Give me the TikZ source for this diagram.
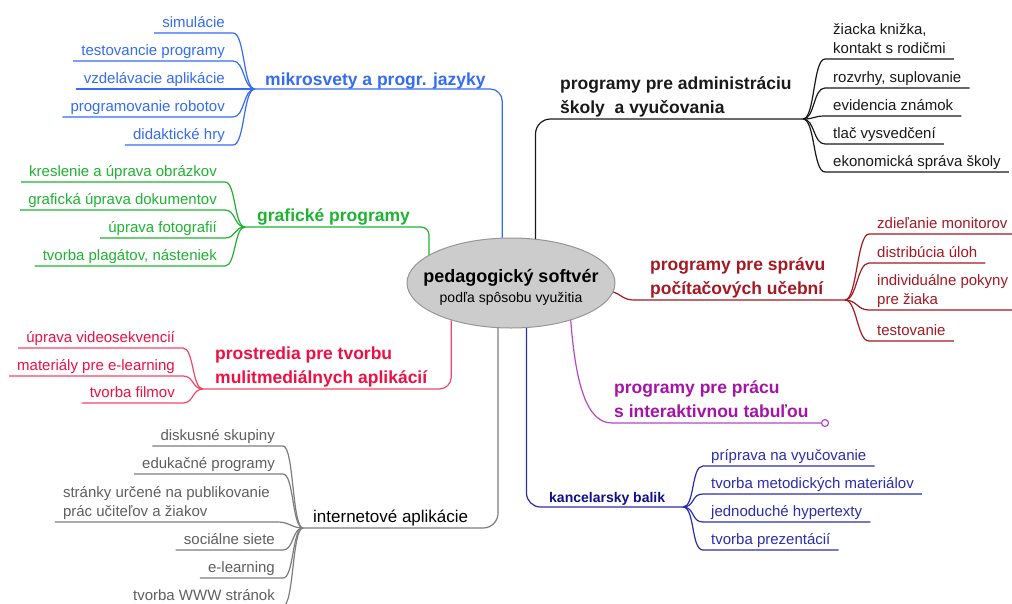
\documentclass[tikz,border=0pt]{standalone}
\usepackage{fontspec}
\setmainfont{Liberation Sans}
\usetikzlibrary{shapes.geometric}
\definecolor{cB}{RGB}{52,108,246}
\definecolor{cG}{RGB}{30,180,50}
\definecolor{cR}{RGB}{238,16,68}
\definecolor{cRl}{RGB}{245,70,105}
\definecolor{cI}{RGB}{125,125,125}
\definecolor{cIt}{RGB}{95,95,95}
\definecolor{cK}{RGB}{25,25,25}
\definecolor{cD}{RGB}{165,25,35}
\definecolor{cP}{RGB}{165,20,165}
\definecolor{cPl}{RGB}{185,70,205}
\definecolor{cN}{RGB}{15,15,140}
\definecolor{cNl}{RGB}{45,45,175}
\definecolor{rootfill}{RGB}{204,204,204}
\definecolor{rootdraw}{RGB}{150,150,150}
\begin{document}
\begin{tikzpicture}[x=1pt,y=-1pt,
  conn/.style={line width=1.2pt},
  leafbase/.style={inner xsep=8pt, inner ysep=5pt, text depth=0pt, font=\fontsize{15}{19}\selectfont},
  leafL/.style={leafbase, anchor=south east},
  leafR/.style={leafbase, anchor=south west},
  title/.style={inner sep=0pt, anchor=base west, font=\fontsize{17.5}{23.5}\selectfont\bfseries},
]
\fill[white] (0,0) rectangle (1012,603);
\useasboundingbox (0,0) rectangle (1012,603);

% root
\node[ellipse, fill=rootfill, draw=rootdraw, line width=1pt, minimum width=208pt, minimum height=90pt, inner sep=0pt] (root) at (511,283) {};
\node[inner sep=0pt, font=\fontsize{18}{20}\selectfont] (rootlbl) at (511,288) {\begin{tabular}{@{}c@{}}\bfseries pedagogický softvér\\ \fontsize{14}{15}\selectfont podľa spôsobu využitia\end{tabular}};

% ---------- blue
\coordinate (jB) at (255,89);
\node[title,text=cB] (tB) at (265,85) {mikrosvety a progr. jazyky};
\draw[conn,cB,rounded corners=12pt] (root.101) |- (jB);
\node[leafL,text=cB] (sim) at (233,33) {simulácie};
\node[leafL,text=cB] (test) at (233,61) {testovancie programy};
\node[leafL,text=cB] (vzdel) at (233,89) {vzdelávacie aplikácie};
\node[leafL,text=cB] (robot) at (233,117) {programovanie robotov};
\node[leafL,text=cB] (hry) at (233,145) {didaktické hry};
\foreach \n in {sim,test,vzdel,robot,hry}
  \draw[conn,cB] (jB) .. controls +(-12,0) and +(12,0) .. (\n.south east) -- (\n.south west);

% ---------- green
\coordinate (jG) at (245,227);
\node[title,text=cG] (tG) at (257,221) {grafické programy};
\draw[conn,cG,rounded corners=8pt] (root.161) |- (jG);
\node[leafL,text=cG] (kres) at (225,182) {kreslenie a úprava obrázkov};
\node[leafL,text=cG] (grafu) at (225,210) {grafická úprava dokumentov};
\node[leafL,text=cG] (foto) at (225,238) {úprava fotografií};
\node[leafL,text=cG] (plag) at (225,266) {tvorba plagátov, násteniek};
\foreach \n in {kres,grafu,foto,plag}
  \draw[conn,cG] (jG) .. controls +(-11,0) and +(11,0) .. (\n.south east) -- (\n.south west);

% ---------- red
\coordinate (jR) at (203,389);
\node[title,text=cR] (tR) at (215,383) {\begin{tabular}[b]{@{}l@{}}prostredia pre tvorbu\\mulitmediálnych aplikácií\end{tabular}};
\draw[conn,cRl,rounded corners=12pt] (root.212) |- (jR);
\node[leafL,text=cR] (video) at (183,348) {úprava videosekvencií};
\node[leafL,text=cR] (mat) at (183,376) {materiály pre e-learning};
\node[leafL,text=cR] (film) at (183,403) {tvorba filmov};
\foreach \n in {video,mat,film}
  \draw[conn,cRl] (jR) .. controls +(-11,0) and +(11,0) .. (\n.south east) -- (\n.south west);

% ---------- gray
\coordinate (jI) at (303,528);
\node[inner sep=0pt, anchor=base west, font=\fontsize{17}{21}\selectfont, text=black] (tI) at (313,522) {internetové aplikácie};
\draw[conn,cI,rounded corners=15pt] (root.254) |- (jI);
\node[leafL,text=cIt] (disk) at (283,446) {diskusné skupiny};
\node[leafL,text=cIt] (eduk) at (283,474) {edukačné programy};
\node[leafL,text=cIt] (stranky) at (278,522) {\begin{tabular}[b]{@{}l@{}}stránky určené na publikovanie\\prác učiteľov a žiakov\end{tabular}};
\node[leafL,text=cIt] (soc) at (283,550) {sociálne siete};
\node[leafL,text=cIt] (elearn) at (283,578) {e-learning};
\node[leafL,text=cIt] (www) at (283,606) {tvorba WWW stránok};
\foreach \n in {disk,eduk,stranky,soc,elearn,www}
  \draw[conn,cI] (jI) .. controls +(-11,0) and +(11,0) .. (\n.south east) -- (\n.south west);

% ---------- black
\coordinate (jK) at (803,119);
\node[title,text=cK] (tK) at (560,113) {\begin{tabular}[b]{@{}l@{}}programy pre administráciu\\školy\ \ a vyučovania\end{tabular}};
\draw[conn,cK,rounded corners=15pt] (root.61) |- (jK);
\node[leafR,text=cK] (ziacka) at (825,59) {\begin{tabular}[b]{@{}l@{}}žiacka knižka,\\kontakt s rodičmi\end{tabular}};
\node[leafR,text=cK] (rozvrhy) at (825,88) {rozvrhy, suplovanie};
\node[leafR,text=cK] (evid) at (825,116) {evidencia známok};
\node[leafR,text=cK] (tlac) at (825,144) {tlač vysvedčení};
\node[leafR,text=cK] (ekon) at (825,172) {ekonomická správa školy};
\foreach \n in {ziacka,rozvrhy,evid,tlac,ekon}
  \draw[conn,cK] (jK) .. controls +(12,0) and +(-12,0) .. (\n.south west) -- (\n.south east);

% ---------- dark red
\coordinate (jD) at (845,300);
\coordinate (dBend) at (635,300);
\node[title,text=cD] (tD) at (650,294) {\begin{tabular}[b]{@{}l@{}}programy pre správu\\počítačových učební\end{tabular}};
\draw[conn,cD] (root.355) .. controls +(10,4) and +(-12,0) .. (dBend) -- (jD);
\node[leafR,text=cD] (zdiel) at (869,234) {zdieľanie monitorov};
\node[leafR,text=cD] (distr) at (869,263) {distribúcia úloh};
\node[leafR,text=cD] (indiv) at (869,310) {\begin{tabular}[b]{@{}l@{}}individuálne pokyny\\pre žiaka\end{tabular}};
\node[leafR,text=cD] (testov) at (869,341) {testovanie};
\foreach \n in {zdiel,distr,indiv,testov}
  \draw[conn,cD] (jD) .. controls +(12,0) and +(-12,0) .. (\n.south west) -- (\n.south east);

% ---------- purple
\node[title,text=cP] (tP) at (614,417) {\begin{tabular}[b]{@{}l@{}}programy pre prácu\\s interaktivnou tabuľou\end{tabular}};
\node[circle, draw=cPl, fill=white, line width=1.2pt, minimum size=7pt, inner sep=0pt] (pc) at (825,423) {};
\coordinate (pBend) at (612,423);
\draw[conn,cPl] (root.328) .. controls +(5,65) and +(-25,0) .. (pBend) -- (pc.west);

% ---------- navy
\coordinate (jN) at (683,507);
\node[inner sep=0pt, anchor=base west, font=\fontsize{14}{17}\selectfont\bfseries, text=cN] (tN) at (549,502) {kancelarsky balik};
\draw[conn,cNl,rounded corners=14pt] (root.289) |- (jN);
\node[leafR,text=cNl] (prip) at (703,466) {príprava na vyučovanie};
\node[leafR,text=cNl] (metod) at (703,494) {tvorba metodických materiálov};
\node[leafR,text=cNl] (hyper) at (703,522) {jednoduché hypertexty};
\node[leafR,text=cNl] (prez) at (703,550) {tvorba prezentácií};
\foreach \n in {prip,metod,hyper,prez}
  \draw[conn,cNl] (jN) .. controls +(12,0) and +(-12,0) .. (\n.south west) -- (\n.south east);
\end{tikzpicture}
\end{document}
